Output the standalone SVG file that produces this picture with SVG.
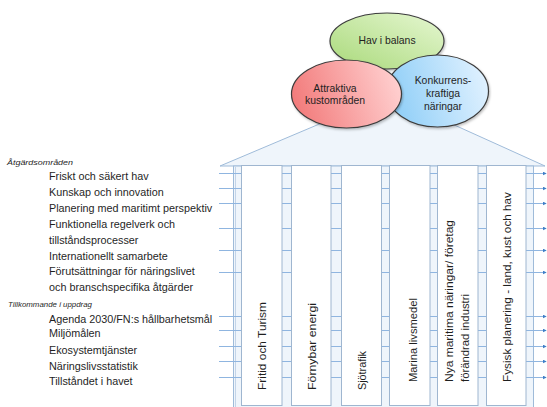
<svg xmlns="http://www.w3.org/2000/svg" width="547" height="407" viewBox="0 0 547 407">
  <defs>
    <linearGradient id="gGreen" x1="0" y1="1" x2="1" y2="0">
      <stop offset="0" stop-color="#a9d97a"/>
      <stop offset="1" stop-color="#e6f7d2"/>
    </linearGradient>
    <linearGradient id="gRed" x1="0" y1="0.6" x2="1" y2="0.4">
      <stop offset="0" stop-color="#f27a7a"/>
      <stop offset="1" stop-color="#ffd0d0"/>
    </linearGradient>
    <linearGradient id="gBlue" x1="0" y1="0.6" x2="1" y2="0.4">
      <stop offset="0" stop-color="#8ccdf7"/>
      <stop offset="1" stop-color="#e0f1ff"/>
    </linearGradient>
    <marker id="arr" viewBox="0 0 6 6" refX="5" refY="3" markerWidth="4" markerHeight="4" orient="auto" markerUnits="userSpaceOnUse">
      <path d="M0,0 L6,3 L0,6 z" fill="#3f7fc8"/>
    </marker>
    <filter id="soft" x="-10%" y="-10%" width="130%" height="130%">
      <feDropShadow dx="1" dy="1.5" stdDeviation="1.2" flood-color="#000" flood-opacity="0.25"/>
    </filter>
  </defs>
  <style>
    .txt { font-family: "Liberation Sans", Arial, sans-serif; fill: #1f1f1f; }
    .item { font-size: 10.8px; }
    .head { font-size: 8px; font-style: italic; }
    .col { font-size: 11.8px; }
    .oval { font-size: 10.4px; text-anchor: middle; }
    .house { fill: #eff5fb; stroke: #9fbbd9; stroke-width: 1; }
    .box { fill: #ffffff; stroke: #9fb6d0; stroke-width: 1; }
    .link { stroke: #8fb5e0; stroke-width: 1; fill: none; marker-end: url(#arr); }
    .ell { stroke: #3c3c3c; stroke-width: 1.2; }
  </style>

  <rect width="547" height="407" fill="#ffffff"/>

  <!-- house: roof and body -->
  <g id="house">
    <polygon class="house" points="220,166 388,95 545,166"/>
    <rect class="house" x="233.5" y="166" width="300" height="250"/>
    <line x1="235.5" y1="167" x2="235.5" y2="407" stroke="#c3d4e8" stroke-width="1"/>
  </g>

  <!-- connectors from action areas across the pillars -->
  <g id="connectors">
    <line class="link" x1="219" y1="173.5" x2="546" y2="173.5"/>
    <line class="link" x1="219" y1="188.5" x2="546" y2="188.5"/>
    <line class="link" x1="219" y1="203.5" x2="546" y2="203.5"/>
    <line class="link" x1="219" y1="228.5" x2="546" y2="228.5"/>
    <line class="link" x1="219" y1="250.5" x2="546" y2="250.5"/>
    <line class="link" x1="219" y1="272.5" x2="546" y2="272.5"/>
    <line class="link" x1="219" y1="316.5" x2="546" y2="316.5"/>
    <line class="link" x1="219" y1="330.5" x2="546" y2="330.5"/>
    <line class="link" x1="219" y1="346.5" x2="546" y2="346.5"/>
    <line class="link" x1="219" y1="361.5" x2="546" y2="361.5"/>
    <line class="link" x1="219" y1="377.5" x2="546" y2="377.5"/>
  </g>

  <!-- pillars -->
  <g id="pillar-fritid">
    <rect class="box" x="241.5" y="165.5" width="40.5" height="240"/>
    <text class="txt col" transform="translate(266,390) rotate(-90)" textLength="88" lengthAdjust="spacingAndGlyphs">Fritid och Turism</text>
  </g>
  <g id="pillar-fornybar">
    <rect class="box" x="291.5" y="165.5" width="39.5" height="240"/>
    <text class="txt col" transform="translate(316,390) rotate(-90)" textLength="87" lengthAdjust="spacingAndGlyphs">Förnybar energi</text>
  </g>
  <g id="pillar-sjotrafik">
    <rect class="box" x="341.5" y="165.5" width="40" height="240"/>
    <text class="txt col" transform="translate(366,390) rotate(-90)" textLength="39" lengthAdjust="spacingAndGlyphs">Sjötrafik</text>
  </g>
  <g id="pillar-marina">
    <rect class="box" x="389.5" y="165.5" width="40.5" height="240"/>
    <text class="txt col" transform="translate(416.5,382) rotate(-90)" textLength="84" lengthAdjust="spacingAndGlyphs">Marina livsmedel</text>
  </g>
  <g id="pillar-nya">
    <rect class="box" x="437.5" y="165.5" width="40.5" height="240"/>
    <text class="txt col" transform="translate(453,382) rotate(-90)" textLength="162" lengthAdjust="spacingAndGlyphs">Nya maritima näringar/ företag</text>
    <text class="txt col" transform="translate(469,382) rotate(-90)" textLength="88" lengthAdjust="spacingAndGlyphs">förändrad industri</text>
  </g>
  <g id="pillar-fysisk">
    <rect class="box" x="486.5" y="165.5" width="39.5" height="240"/>
    <text class="txt col" transform="translate(510.5,382) rotate(-90)" textLength="190" lengthAdjust="spacingAndGlyphs">Fysisk planering - land, kust och hav</text>
  </g>

  <!-- three overlapping goals -->
  <g id="goal-hav">
    <ellipse class="ell" cx="387" cy="41" rx="57" ry="28" fill="url(#gGreen)" filter="url(#soft)"/>
    <text class="txt oval" x="387" y="44">Hav i balans</text>
  </g>
  <g id="goal-konkurrens">
    <ellipse class="ell" cx="437.5" cy="91" rx="51" ry="36" fill="url(#gBlue)" filter="url(#soft)"/>
    <text class="txt oval" x="443" y="84">Konkurrens-</text>
    <text class="txt oval" x="443" y="97">kraftiga</text>
    <text class="txt oval" x="443" y="110">näringar</text>
  </g>
  <g id="goal-attraktiva">
    <ellipse class="ell" cx="346.5" cy="94" rx="55" ry="34" fill="url(#gRed)" filter="url(#soft)"/>
    <text class="txt oval" x="335" y="92">Attraktiva</text>
    <text class="txt oval" x="335" y="104">kustområden</text>
  </g>

  <!-- left-hand lists -->
  <g id="list-atgard">
    <text class="txt head" x="7" y="164.5" textLength="66" lengthAdjust="spacingAndGlyphs">Åtgärdsområden</text>
    <text class="txt item" x="49" y="179.5">Friskt och säkert hav</text>
    <text class="txt item" x="49" y="195.5">Kunskap och innovation</text>
    <text class="txt item" x="49" y="211.5">Planering med maritimt perspektiv</text>
    <text class="txt item" x="49" y="227.5">Funktionella regelverk och</text>
    <text class="txt item" x="49" y="243.5">tillståndsprocesser</text>
    <text class="txt item" x="49" y="259.5">Internationellt samarbete</text>
    <text class="txt item" x="49" y="275">Förutsättningar för näringslivet</text>
    <text class="txt item" x="49" y="290.5">och branschspecifika åtgärder</text>
  </g>
  <g id="list-tillkommande">
    <text class="txt head" x="8" y="306.5" textLength="84" lengthAdjust="spacingAndGlyphs">Tillkommande i uppdrag</text>
    <text class="txt item" x="49" y="322.5">Agenda 2030/FN:s hållbarhetsmål</text>
    <text class="txt item" x="49" y="337">Miljömålen</text>
    <text class="txt item" x="49" y="354">Ekosystemtjänster</text>
    <text class="txt item" x="49" y="369.5">Näringslivsstatistik</text>
    <text class="txt item" x="49" y="384.5">Tillståndet i havet</text>
  </g>
</svg>
